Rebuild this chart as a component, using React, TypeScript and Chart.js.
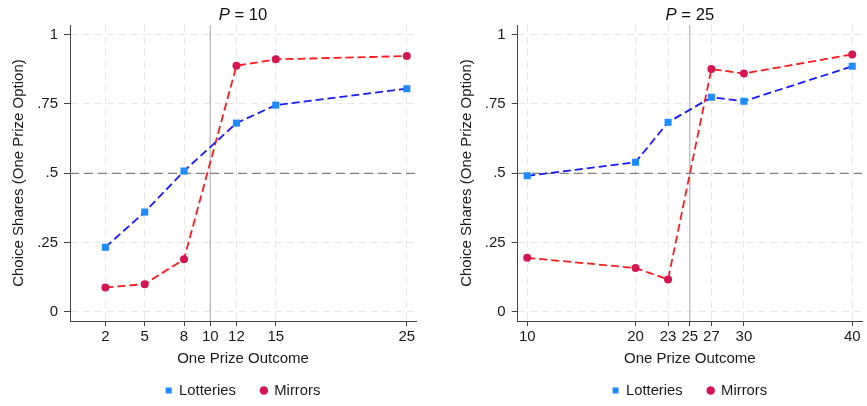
import React, { useEffect, useRef } from "react";
import { Chart, registerables } from "chart.js";

Chart.register(...registerables);

const FONT = "'Liberation Sans', Arial, Helvetica, sans-serif";

// ---- data ----
const seriesNames = ["Lotteries", "Mirrors"];
const yTicks = [0, 0.25, 0.5, 0.75, 1];
const yTickLabels = ["0", ".25", ".5", ".75", "1"];
const yTitle = "Choice Shares (One Prize Option)";
const xTitle = "One Prize Outcome";

const leftPrize = "10";
const leftOutcomes = [2, 5, 8, 12, 15, 25];
const leftLotteries = [0.233, 0.36, 0.508, 0.681, 0.746, 0.805];
const leftMirrors = [0.088, 0.1, 0.19, 0.888, 0.911, 0.923];
const leftXTicks = [2, 5, 8, 10, 12, 15, 25];
const leftCutoff = 10;

const rightPrize = "25";
const rightOutcomes = [10, 20, 23, 27, 30, 40];
const rightLotteries = [0.491, 0.54, 0.684, 0.774, 0.76, 0.886];
const rightMirrors = [0.195, 0.158, 0.117, 0.876, 0.86, 0.929];
const rightXTicks = [10, 20, 23, 25, 27, 30, 40];
const rightCutoff = 25;

const halfLine = 0.5;

const AXIS_FONT = 15;
const LEGEND_FONT = 14.8;
const LEGEND_PAD = 25;

const titlePlugin = {
  id: "panelTitle",
  afterDraw(chart: any, _args: any, opts: any) {
    const { ctx, chartArea } = chart;
    ctx.save();
    const size = 16.7;
    const italic = `italic ${size}px ${FONT}`;
    const normal = `${size}px ${FONT}`;
    ctx.font = italic;
    const pW = ctx.measureText("P").width;
    const rest = ` = ${opts.value}`;
    ctx.font = normal;
    const rW = ctx.measureText(rest).width;
    const x0 = (chartArea.left + chartArea.right) / 2 - (pW + rW) / 2;
    ctx.textBaseline = "middle";
    ctx.fillStyle = "#111";
    ctx.font = italic;
    ctx.fillText("P", x0, 15);
    ctx.font = normal;
    ctx.fillText(rest, x0 + pW, 15);
    ctx.restore();
  },
};

const refLinesPlugin = {
  id: "refLines",
  beforeDatasetsDraw(chart: any, _args: any, opts: any) {
    const { ctx, chartArea, scales } = chart;
    ctx.save();
    const xPix = scales.x.getPixelForValue(opts.cutoff);
    ctx.strokeStyle = "#c4c4c4";
    ctx.lineWidth = 1.5;
    ctx.setLineDash([]);
    ctx.beginPath();
    ctx.moveTo(xPix, chartArea.top);
    ctx.lineTo(xPix, chartArea.bottom);
    ctx.stroke();
    const yPix = scales.y.getPixelForValue(opts.hline);
    ctx.strokeStyle = "#808080";
    ctx.lineWidth = 1.3;
    ctx.setLineDash([9, 5]);
    ctx.beginPath();
    ctx.moveTo(chartArea.left, yPix);
    ctx.lineTo(chartArea.right, yPix);
    ctx.stroke();
    ctx.restore();
  },
};

type PanelProps = {
  prize: string;
  outcomes: number[];
  lotteries: number[];
  mirrors: number[];
  xTicks: number[];
  cutoff: number;
  xMin: number;
  xMax: number;
  padLeft: number;
  padRight: number;
  width: number;
  left: number;
};

function Panel(p: PanelProps) {
  const ref = useRef<HTMLCanvasElement | null>(null);
  useEffect(() => {
    if (!ref.current) return;
    const legendHeight = LEGEND_FONT + LEGEND_PAD + 10;
    const chart = new Chart(ref.current, {
      type: "line",
      data: {
        datasets: [
          {
            label: seriesNames[0],
            data: p.outcomes.map((x, i) => ({ x, y: p.lotteries[i] })),
            borderColor: "#1a1aff",
            backgroundColor: "#1e8bff",
            pointBackgroundColor: "#1e8bff",
            pointBorderWidth: 0,
            pointStyle: "rect",
            pointRadius: 5,
            borderWidth: 1.8,
            borderDash: [8, 4],
          },
          {
            label: seriesNames[1],
            data: p.outcomes.map((x, i) => ({ x, y: p.mirrors[i] })),
            borderColor: "#ff1a1a",
            backgroundColor: "#d41752",
            pointBackgroundColor: "#d41752",
            pointBorderWidth: 0,
            pointStyle: "circle",
            pointRadius: 4,
            borderWidth: 1.8,
            borderDash: [8, 4],
          },
        ],
      },
      options: {
        animation: false,
        responsive: false,
        events: [],
        layout: { padding: { top: 25, left: p.padLeft, right: p.padRight, bottom: -2 } },
        scales: {
          x: {
            type: "linear",
            min: p.xMin,
            max: p.xMax,
            afterBuildTicks: (s: any) => {
              s.ticks = p.xTicks.map((v) => ({ value: v }));
            },
            afterFit: (s: any) => {
              s.height = 408 - legendHeight - 321;
            },
            ticks: {
              autoSkip: false,
              maxRotation: 0,
              padding: 2,
              color: "#1a1a1a",
              font: { family: FONT, size: AXIS_FONT },
              callback: (v: any) => String(v),
            },
            grid: { color: "#e6e6e6", lineWidth: 1, tickLength: 5, tickColor: "#444", tickWidth: 1 },
            border: { display: true, color: "#444", width: 1, dash: [7, 5] },
            title: {
              display: true,
              text: xTitle,
              color: "#1a1a1a",
              font: { family: FONT, size: AXIS_FONT },
              padding: { top: 0, bottom: -10 },
            },
          },
          y: {
            type: "linear",
            min: -0.033,
            max: 1.035,
            afterBuildTicks: (s: any) => {
              s.ticks = yTicks.map((v) => ({ value: v }));
            },
            afterFit: (s: any) => {
              s.width = 70;
            },
            ticks: {
              padding: 6,
              color: "#1a1a1a",
              font: { family: FONT, size: AXIS_FONT },
              callback: (v: any) => {
                const i = yTicks.indexOf(Number(v));
                return i >= 0 ? yTickLabels[i] : "";
              },
            },
            grid: { color: "#e6e6e6", lineWidth: 1, tickLength: 6, tickColor: "#444", tickWidth: 1 },
            border: { display: true, color: "#444", width: 1, dash: [7, 5] },
            title: {
              display: true,
              text: yTitle,
              color: "#1a1a1a",
              font: { family: FONT, size: AXIS_FONT },
              padding: { top: 10, bottom: 0 },
            },
          },
        },
        plugins: {
          title: { display: false },
          tooltip: { enabled: false },
          legend: {
            display: true,
            position: "bottom",
            fullSize: false,
            labels: {
              usePointStyle: true,
              boxWidth: 6,
              boxHeight: 6,
              padding: LEGEND_PAD,
              color: "#1a1a1a",
              font: { family: FONT, size: LEGEND_FONT },
              generateLabels: (chart: any) => {
                const items = (Chart.defaults.plugins.legend.labels as any).generateLabels(chart);
                return items.map((it: any) => ({ ...it, lineWidth: 0, strokeStyle: it.fillStyle, lineDash: [] }));
              },
            },
          },
          panelTitle: { value: p.prize },
          refLines: { cutoff: p.cutoff, hline: halfLine },
        } as any,
      },
      plugins: [titlePlugin, refLinesPlugin],
    } as any);
    return () => chart.destroy();
  }, []);
  return (
    <canvas
      ref={ref}
      width={p.width}
      height={406}
      style={{ position: "absolute", left: p.left, top: 0, width: p.width, height: 406 }}
    />
  );
}

export default function App() {
  return (
    <div style={{ position: "fixed", left: 0, top: 0, width: 867, height: 406, background: "#fff" }}>
      <Panel
        prize={leftPrize}
        outcomes={leftOutcomes}
        lotteries={leftLotteries}
        mirrors={leftMirrors}
        xTicks={leftXTicks}
        cutoff={leftCutoff}
        xMin={-0.7}
        xMax={25.7}
        padLeft={0}
        padRight={17}
        width={433}
        left={0}
      />
      <Panel
        prize={rightPrize}
        outcomes={rightOutcomes}
        lotteries={rightLotteries}
        mirrors={rightMirrors}
        xTicks={rightXTicks}
        cutoff={rightCutoff}
        xMin={9.12}
        xMax={40.9}
        padLeft={14.7}
        padRight={3}
        width={434}
        left={433}
      />
    </div>
  );
}
